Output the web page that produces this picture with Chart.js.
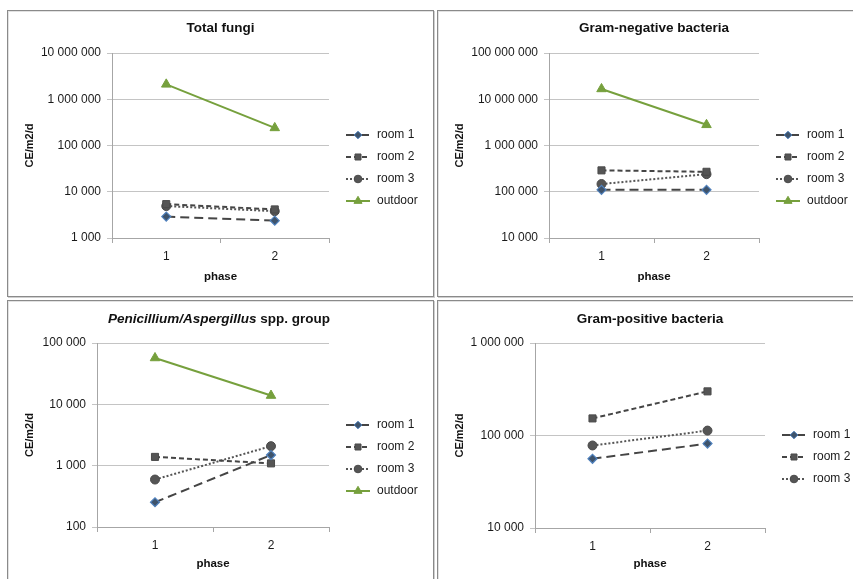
<!DOCTYPE html>
<html>
<head>
<meta charset="utf-8">
<script src="https://cdn.jsdelivr.net/npm/chart.js@4.4.1/dist/chart.umd.min.js"></script>
<style>
  body { margin: 0; background: #fff; width: 853px; height: 579px; overflow: hidden; position: relative; font-family: "Liberation Sans", Arial, sans-serif; }
  .panel { position: absolute; box-sizing: border-box; border: 1px solid #8a8a8a; box-shadow: 1px 1px 0 #cfcfcf, inset 1px 1px 0 #e2e2e2; background: #fff; }
  .panel canvas { position: absolute; left: 0; top: 0; }
  .htitle { position: absolute; font: bold 13.5px "Liberation Sans", Arial, sans-serif; color: #111; white-space: nowrap; transform: translateX(-50%); }
</style>
</head>
<body>
<div class="panel" style="left:7px;top:10px;width:427px;height:287px"><canvas id="c1" width="425" height="285"></canvas></div>
<div class="panel" style="left:437px;top:10px;width:420px;height:287px"><canvas id="c2" width="418" height="285"></canvas></div>
<div class="panel" style="left:7px;top:300px;width:427px;height:282px"><canvas id="c3" width="425" height="280"></canvas>
  <div class="htitle" style="left:211px;top:10px"><i>Penicillium/Aspergillus</i> spp. group</div></div>
<div class="panel" style="left:437px;top:300px;width:420px;height:282px"><canvas id="c4" width="418" height="280"></canvas></div>
<script>
// phases (x categories)
const phases = ['1', '2'];

// Total fungi
const fungiRoom1 = [2900, 2370];
const fungiRoom2 = [5400, 4150];
const fungiRoom3 = [4900, 3800];
const fungiOutdoor = [2100000, 240000];
const fungiTicks = [1000, 10000, 100000, 1000000, 10000000];

// Gram-negative bacteria
const gnegRoom1 = [110000, 110000];
const gnegRoom2 = [290000, 270000];
const gnegRoom3 = [147000, 240000];
const gnegOutdoor = [16700000, 2800000];
const gnegTicks = [10000, 100000, 1000000, 10000000, 100000000];

// Penicillium/Aspergillus spp. group
const penRoom1 = [253, 1490];
const penRoom2 = [1390, 1090];
const penRoom3 = [594, 2080];
const penOutdoor = [57000, 13900];
const penTicks = [100, 1000, 10000, 100000];

// Gram-positive bacteria
const gposRoom1 = [56000, 81700];
const gposRoom2 = [153000, 300000];
const gposRoom3 = [78000, 113000];
const gposTicks = [10000, 100000, 1000000];

const FONT = '"Liberation Sans", Arial, sans-serif';
const TXT = '#1a1a1a';

function fmt(v) {
    return String(v).replace(/\B(?=(\d{3})+(?!\d))/g, ' ');
}

// series styles
function room1(data) {
    return { label: 'room 1', data: data, borderColor: '#454545', borderWidth: 2, borderDash: [9, 5],
        pointStyle: 'rectRot', pointRadius: 4.5, pointBackgroundColor: '#3e536b', pointBorderColor: '#4f81bd', pointBorderWidth: 1.2 };
}
function room2(data) {
    return { label: 'room 2', data: data, borderColor: '#454545', borderWidth: 2, borderDash: [5, 3],
        pointStyle: 'rect', pointRadius: 5, pointBackgroundColor: '#555555', pointBorderColor: '#4a4a4a', pointBorderWidth: 1 };
}
function room3(data) {
    return { label: 'room 3', data: data, borderColor: '#555555', borderWidth: 2, borderDash: [2, 2],
        pointStyle: 'circle', pointRadius: 4.5, pointBackgroundColor: '#555555', pointBorderColor: '#4a4a4a', pointBorderWidth: 1 };
}
function outdoor(data) {
    return { label: 'outdoor', data: data, borderColor: '#76a03d', borderWidth: 2, borderDash: [],
        pointStyle: 'triangle', pointRadius: 5.5, pointBackgroundColor: '#76a03d', pointBorderColor: '#76a03d', pointBorderWidth: 1 };
}

// legend drawn to the right of the plot: line sample + marker + label
const sideLegend = {
    id: 'sideLegend',
    afterDraw(chart, args, opts) {
        const ctx = chart.ctx;
        const x0 = chart.chartArea.right + opts.dx;
        ctx.save();
        chart.data.datasets.forEach((ds, i) => {
            const y = opts.y + i * 22;
            ctx.strokeStyle = ds.borderColor;
            ctx.lineWidth = ds.borderWidth;
            ctx.setLineDash(ds.borderDash || []);
            ctx.beginPath();
            ctx.moveTo(x0, y);
            ctx.lineTo(x0 + 24, y);
            ctx.stroke();
            ctx.setLineDash([]);
            ctx.fillStyle = ds.pointBackgroundColor;
            ctx.strokeStyle = ds.pointBorderColor;
            ctx.lineWidth = 1;
            Chart.helpers.drawPoint(ctx, { pointStyle: ds.pointStyle, radius: ds.pointRadius * 0.85, rotation: 0, borderWidth: 1 }, x0 + 12, y);
            ctx.fillStyle = TXT;
            ctx.font = '12px ' + FONT;
            ctx.textBaseline = 'middle';
            ctx.textAlign = 'left';
            ctx.fillText(ds.label, x0 + 31, y);
        });
        ctx.restore();
    }
};

function makeChart(id, title, datasets, ticks, sp) {
    const config = {
        type: 'line',
        data: { labels: phases, datasets: datasets },
        plugins: [sideLegend],
        options: {
            responsive: false,
            animation: false,
            layout: { padding: { left: 0, right: sp.padRight, top: title ? 0 : 42, bottom: 0 } },
            elements: { line: { tension: 0, fill: false } },
            plugins: {
                legend: { display: false },
                tooltip: { enabled: false },
                title: {
                    display: !!title,
                    text: title,
                    fullSize: false,
                    color: '#111',
                    font: { family: FONT, size: 13.5, weight: 'bold', lineHeight: 1.2 },
                    padding: { top: sp.titleTop, bottom: 42 - sp.titleTop - 16.2 }
                },
                sideLegend: { dx: 17, y: sp.legendY }
            },
            scales: {
                x: {
                    offset: true,
                    grid: { offset: true, drawOnChartArea: false, drawTicks: true, tickLength: 5, color: '#a6a6a6' },
                    border: { display: true, color: '#a6a6a6', width: 1 },
                    ticks: { color: TXT, padding: 6, font: { family: FONT, size: 12 } },
                    title: { display: true, text: 'phase', color: '#111', font: { family: FONT, size: 11.5, weight: 'bold' },
                        padding: { top: 0, bottom: sp.phasePad } },
                    afterFit: function(s) { s.height = sp.xHeight; }
                },
                y: {
                    type: 'logarithmic',
                    min: ticks[0],
                    max: ticks[ticks.length - 1],
                    afterBuildTicks: function(s) { s.ticks = ticks.map(v => ({ value: v })); },
                    grid: { color: '#c4c4c4', lineWidth: 1, tickLength: 5 },
                    border: { display: true, color: '#a6a6a6', width: 1 },
                    ticks: { color: TXT, padding: 6, autoSkip: false, font: { family: FONT, size: 12 },
                        callback: function(v) { return fmt(v); } },
                    title: { display: true, text: 'CE/m2/d', color: '#111', font: { family: FONT, size: 11, weight: 'bold' },
                        padding: { top: 15.4, bottom: 0 } },
                    afterFit: function(s) { s.width = sp.yWidth; }
                }
            }
        }
    };
    return new Chart(document.getElementById(id), config);
}

makeChart('c1', 'Total fungi',
    [room1(fungiRoom1), room2(fungiRoom2), room3(fungiRoom3), outdoor(fungiOutdoor)], fungiTicks,
    { yWidth: 104, padRight: 104, xHeight: 58, titleTop: 9, phasePad: 12.4, legendY: 124 });

makeChart('c2', 'Gram-negative bacteria',
    [room1(gnegRoom1), room2(gnegRoom2), room3(gnegRoom3), outdoor(gnegOutdoor)], gnegTicks,
    { yWidth: 111, padRight: 97, xHeight: 58, titleTop: 9, phasePad: 12.4, legendY: 124 });

makeChart('c3', '',
    [room1(penRoom1), room2(penRoom2), room3(penRoom3), outdoor(penOutdoor)], penTicks,
    { yWidth: 89, padRight: 104, xHeight: 54, titleTop: 10, phasePad: 10.1, legendY: 124 });

makeChart('c4', 'Gram-positive bacteria',
    [room1(gposRoom1), room2(gposRoom2), room3(gposRoom3)], gposTicks,
    { yWidth: 97, padRight: 91, xHeight: 53, titleTop: 10.2, phasePad: 10.1, legendY: 134 });
</script>
</body>
</html>
